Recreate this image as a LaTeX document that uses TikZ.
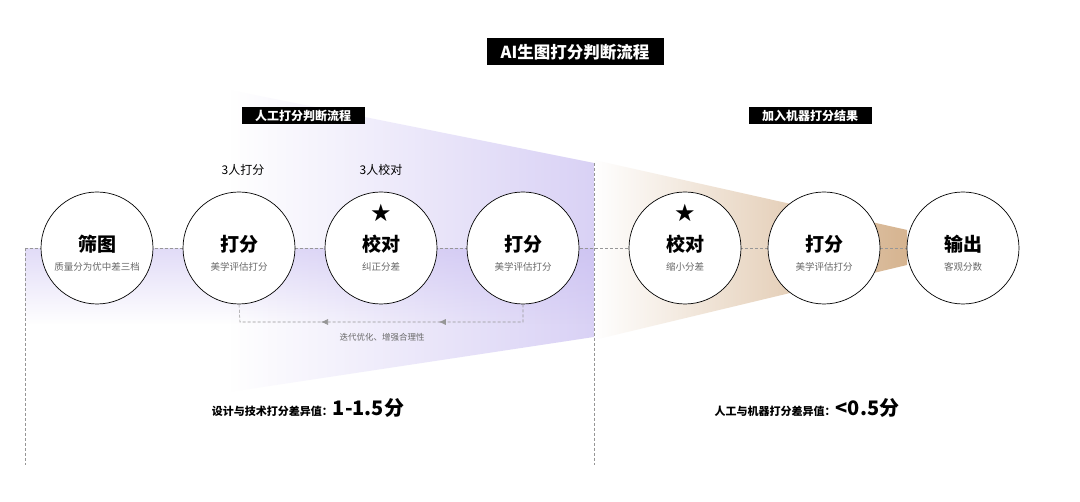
\documentclass[tikz,border=0pt]{standalone}
\usepackage{fontspec}
\setmainfont{Noto Sans CJK SC}
\newfontfamily\symfont{DejaVu Sans}
\usepackage{tikz}
\usetikzlibrary{arrows.meta,positioning,fadings,decorations.markings}

\definecolor{beampurple}{RGB}{196,184,240}
\definecolor{beamtan}{RGB}{214,180,144}
\definecolor{linegray}{RGB}{150,150,150}
\definecolor{subgray}{RGB}{105,105,105}

\tikzfading[name=fade right, left color=transparent!100, middle color=transparent!80, right color=transparent!20]
\tikzfading[name=fade tan, left color=transparent!100, middle color=transparent!85, right color=transparent!0]
\tikzfading[name=fade down, top color=transparent!0, bottom color=transparent!100]

\begin{document}
\begin{tikzpicture}[x=1pt,y=1pt,node distance=142pt,
		step node/.style={circle,draw=black,fill=white,line width=0.7pt,
			minimum size=112pt,inner sep=0pt},
		head text/.style={font=\fontsize{19}{22}\selectfont\bfseries},
		sub text/.style={text=subgray,font=\fontsize{9.5}{11}\selectfont},
		black box/.style={fill=black,text=white,inner sep=0pt,
			font=\fontsize{12}{14}\selectfont\bfseries,minimum height=17pt,minimum width=123pt},
		guide line/.style={draw=linegray,line width=0.6pt,dash pattern=on 3pt off 2pt}]
	
	\useasboundingbox (0,0) rectangle (1080,502);
	\fill[white] (0,0) rectangle (1080,502);
	
	% light beams
	\fill[beampurple,opacity=0.8,path fading=fade right] (230,110) -- (594,165) -- (594,339) -- (230,412) -- cycle;
	\fill[beampurple,opacity=0.5,path fading=fade down] (25,254) rectangle (594,178);
	\fill[beamtan,path fading=fade tan] (594,342) -- (907,272) -- (907,237) -- (594,162) -- cycle;
	
	% guide lines
	\coordinate (gl) at (25,254);
	\coordinate (gr) at (907,254);
	\coordinate (gb) at (25,37);
	\coordinate (mt) at (594,339);
	\coordinate (mb) at (594,37);
	\path[guide line] (gl) -- (gr);
	\path[guide line] (gl) -- (gb);
	\path[guide line] (mt) -- (mb);
	
	% steps
	\node[step node] (c1) at (97,254) {};
	\node[step node] (c2) [right of=c1] {};
	\node[step node] (c3) [right of=c2] {};
	\node[step node] (c4) [right of=c3] {};
	\node[step node] (c5) at (685,254) {};
	\node[step node] (c6) [right of=c5,node distance=139pt] {};
	\node[step node] (c7) [right of=c6,node distance=139pt] {};
	
	\node[head text] (t1) at ([yshift=4pt]c1.center) {筛图};
	\node[head text] (t2) at ([yshift=4pt]c2.center) {打分};
	\node[head text] (t3) at ([yshift=4pt]c3.center) {校对};
	\node[head text] (t4) at ([yshift=4pt]c4.center) {打分};
	\node[head text] (t5) at ([yshift=4pt]c5.center) {校对};
	\node[head text] (t6) at ([yshift=4pt]c6.center) {打分};
	\node[head text] (t7) at ([yshift=4pt]c7.center) {输出};
	
	\node[sub text] (s1) at ([yshift=-19pt]c1.center) {质量分为优中差三档};
	\node[sub text] (s2) at ([yshift=-19pt]c2.center) {美学评估打分};
	\node[sub text] (s3) at ([yshift=-19pt]c3.center) {纠正分差};
	\node[sub text] (s4) at ([yshift=-19pt]c4.center) {美学评估打分};
	\node[sub text] (s5) at ([yshift=-19pt]c5.center) {缩小分差};
	\node[sub text] (s6) at ([yshift=-19pt]c6.center) {美学评估打分};
	\node[sub text] (s7) at ([yshift=-19pt]c7.center) {客观分数};
	
	\node[font=\symfont\fontsize{24}{26}\selectfont] (k3) at ([yshift=35pt]c3.center) {★};
	\node[font=\symfont\fontsize{24}{26}\selectfont] (k5) at ([yshift=35pt]c5.center) {★};
	
	\node[font=\fontsize{12}{14}\selectfont] (n2) at (243,332) {3人打分};
	\node[font=\fontsize{12}{14}\selectfont] (n3) at (381,332) {3人校对};
	
	% headings
	\node[black box,minimum width=177pt,minimum height=27pt,
		font=\fontsize{16.5}{19}\selectfont\bfseries] (title) at (575,450) {AI生图打分判断流程};
	\node[black box] (h1) at (303,386) {人工打分判断流程};
	\node[black box] (h2) at (810,386) {加入机器打分结果};
	
	% feedback loop
	\coordinate (r1) at (523,180);
	\coordinate (r2) at (240,180);
	\path[guide line,decoration={markings,
		mark=at position 0.32 with {\arrow[linegray]{Latex[length=7pt,width=6pt]}},
		mark=at position 0.69 with {\arrow[linegray]{Latex[length=7pt,width=6pt]}}},
		postaction={decorate}] (c4.south) -- (r1) -- (r2) -- (c2.south);
	\node[sub text,font=\fontsize{8.5}{10}\selectfont] (loop) at (382,165) {迭代优化、增强合理性};
	
	% results
	\node (d1) at (308,94) {{\fontsize{11}{13}\selectfont\bfseries 设计与技术打分差异值：}{\fontsize{20}{24}\selectfont\bfseries 1-1.5分}};
	\node (d2) at (807,94) {{\fontsize{11}{13}\selectfont\bfseries 人工与机器打分差异值：}{\fontsize{20}{24}\selectfont\bfseries <0.5分}};
\end{tikzpicture}
\end{document}
